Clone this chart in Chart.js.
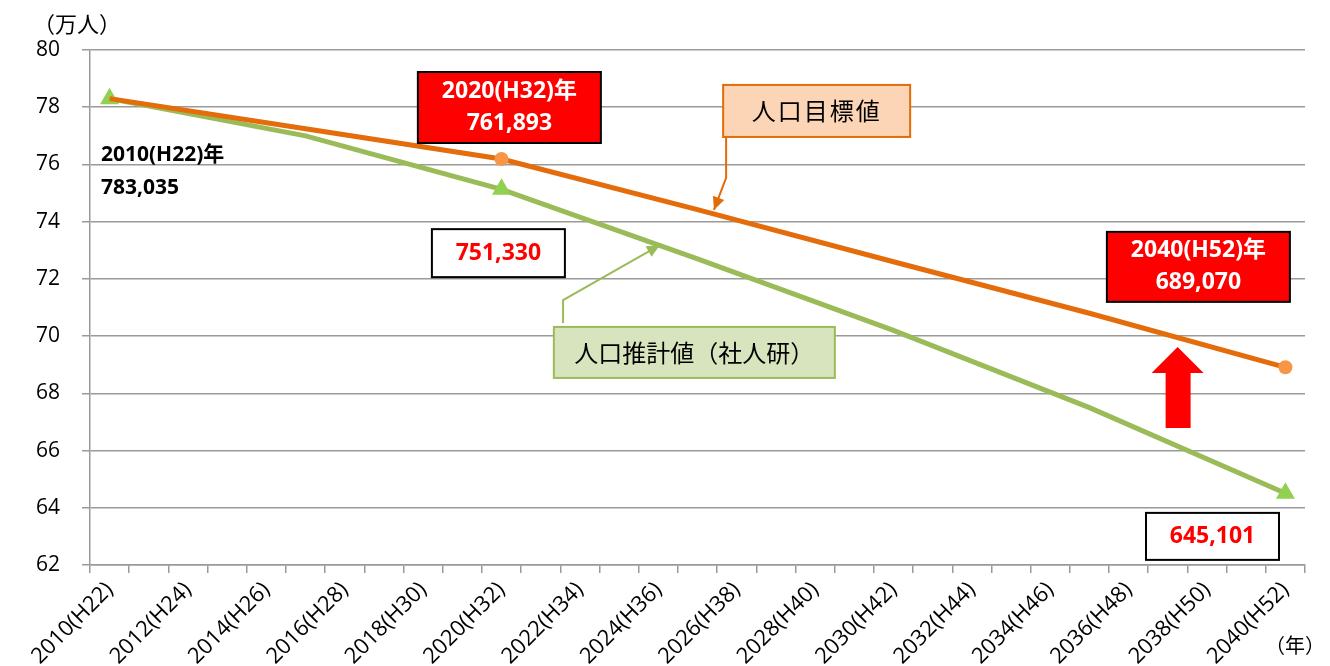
<!DOCTYPE html>
<html>
<head>
<meta charset="utf-8">
<script src="https://cdn.jsdelivr.net/npm/chart.js@4"></script>
<style>
  body { margin: 0; background: #fff; }
  #wrap { width: 1330px; height: 666px; position: relative; }
</style>
</head>
<body>
<div id="wrap"><canvas id="grafico"></canvas></div>
<script>
// categories: one per year, labels shown every 2 years
var yearLabels = [
    '2010(H22)', '2011(H23)', '2012(H24)', '2013(H25)', '2014(H26)', '2015(H27)',
    '2016(H28)', '2017(H29)', '2018(H30)', '2019(H31)', '2020(H32)', '2021(H33)',
    '2022(H34)', '2023(H35)', '2024(H36)', '2025(H37)', '2026(H38)', '2027(H39)',
    '2028(H40)', '2029(H41)', '2030(H42)', '2031(H43)', '2032(H44)', '2033(H45)',
    '2034(H46)', '2035(H47)', '2036(H48)', '2037(H49)', '2038(H50)', '2039(H51)',
    '2040(H52)'
];
var firstYear = 2010;

// values in 万人, every 5 years
var dataYears = [2010, 2015, 2020, 2025, 2030, 2035, 2040];
var targetValues = [78.30, 77.25, 76.19, 74.42, 72.60, 70.80, 68.91];   // 人口目標値
var estimateValues = [78.30, 77.00, 75.13, 72.70, 70.20, 67.50, 64.51]; // 人口推計値(社人研)

var targetMarked = [2020, 2040];
var estimateMarked = [2010, 2020, 2040];

var yTicks = [62, 64, 66, 68, 70, 72, 74, 76, 78, 80];

var LAT = '"Open Sans", "Noto Sans CJK JP", sans-serif';
var JP = '"Noto Sans CJK JP", sans-serif';

function serie(valores) {
    var pts = [];
    for (var i = 0; i < dataYears.length; i++) {
        pts.push({ x: yearLabels[dataYears[i] - firstYear], y: valores[i] });
    }
    return pts;
}

function marcado(lista, r) {
    return function (c) {
        return lista.indexOf(dataYears[c.dataIndex]) >= 0 ? r : 0;
    };
}

// annotation helpers
var anotacoes = {
    id: 'anotacoes',
    afterDraw: function (chart) {
        var ctx = chart.ctx;
        var xs = chart.scales.x, ys = chart.scales.y;
        var px = function (ano) { return xs.getPixelForValue(ano - firstYear); };
        var py = function (v) { return ys.getPixelForValue(v); };

        function caixa(ano, v, w, h, fundo, borda, linhas, cor, fonte, passo, espaco) {
            var cx = px(ano), cy = py(v);
            ctx.save();
            ctx.fillStyle = fundo;
            ctx.fillRect(cx - w / 2, cy - h / 2, w, h);
            ctx.lineWidth = 2;
            ctx.strokeStyle = borda;
            ctx.strokeRect(cx - w / 2, cy - h / 2, w, h);
            ctx.fillStyle = cor;
            ctx.font = fonte;
            ctx.textAlign = 'center';
            ctx.textBaseline = 'middle';
            if (espaco) ctx.letterSpacing = espaco;
            var y0 = cy - (linhas.length - 1) * passo / 2;
            linhas.forEach(function (t, i) { ctx.fillText(t, cx, y0 + i * passo); });
            ctx.restore();
        }

        function seta(pontos, cor) {
            ctx.save();
            ctx.strokeStyle = cor;
            ctx.fillStyle = cor;
            ctx.lineWidth = 2;
            ctx.beginPath();
            var p = pontos.map(function (q) { return [px(q[0]), py(q[1])]; });
            ctx.moveTo(p[0][0], p[0][1]);
            for (var i = 1; i < p.length; i++) ctx.lineTo(p[i][0], p[i][1]);
            ctx.stroke();
            var a = p[p.length - 2], b = p[p.length - 1];
            var ang = Math.atan2(b[1] - a[1], b[0] - a[0]);
            ctx.beginPath();
            ctx.moveTo(b[0], b[1]);
            ctx.lineTo(b[0] - 13 * Math.cos(ang) + 6 * Math.sin(ang), b[1] - 13 * Math.sin(ang) - 6 * Math.cos(ang));
            ctx.lineTo(b[0] - 13 * Math.cos(ang) - 6 * Math.sin(ang), b[1] - 13 * Math.sin(ang) + 6 * Math.cos(ang));
            ctx.closePath();
            ctx.fill();
            ctx.restore();
        }

        // 2010 label (no box)
        ctx.save();
        ctx.fillStyle = '#000';
        ctx.font = 'bold 21px ' + LAT;
        ctx.textAlign = 'left';
        ctx.textBaseline = 'middle';
        ctx.fillText('2010(H22)年', px(2009.78), py(76.33));
        ctx.fillText('783,035', px(2009.78), py(75.18));
        ctx.restore();

        // red boxes
        caixa(2020.2, 77.99, 183, 71, '#FF0000', '#000', ['2020(H32)年', '761,893'], '#fff', 'bold 23px ' + LAT, 32);
        caixa(2037.78, 72.42, 183, 70, '#FF0000', '#000', ['2040(H52)年', '689,070'], '#fff', 'bold 23px ' + LAT, 32);

        // white boxes
        caixa(2019.92, 72.9, 133, 48, '#fff', '#000', ['751,330'], '#FF0000', 'bold 23px ' + LAT, 0);
        caixa(2038.14, 63.0, 133, 47, '#fff', '#000', ['645,101'], '#FF0000', 'bold 23px ' + LAT, 0);

        // series labels with arrows
        seta([[2025.73, 76.96], [2025.73, 75.53], [2025.42, 74.41]], '#E36C09');
        caixa(2028.04, 77.87, 187, 52, '#FBD5B5', '#E36C09', ['人口目標値'], '#000', '24px ' + JP, 0, '2px');
        seta([[2021.57, 70.46], [2021.57, 71.26], [2024.04, 73.18]], '#9BBB59');
        caixa(2024.92, 69.43, 281, 51, '#D7E4BD', '#9BBB59', ['人口推計値（社人研）'], '#000', '24px ' + JP, 0);

        // big red up arrow
        var ax = px(2037.25), topo = py(69.62), base = py(66.79);
        ctx.save();
        ctx.fillStyle = '#FF0000';
        ctx.beginPath();
        ctx.moveTo(ax, topo);
        ctx.lineTo(ax + 26, topo + 26);
        ctx.lineTo(ax + 13, topo + 26);
        ctx.lineTo(ax + 13, base);
        ctx.lineTo(ax - 12, base);
        ctx.lineTo(ax - 12, topo + 26);
        ctx.lineTo(ax - 26, topo + 26);
        ctx.closePath();
        ctx.fill();
        ctx.restore();

        // axis titles
        ctx.save();
        ctx.fillStyle = '#000';
        ctx.font = '22px ' + JP;
        ctx.textAlign = 'center';
        ctx.textBaseline = 'middle';
        ctx.fillText('（万人）', 77, 24);
        ctx.font = '20px ' + JP;
        ctx.fillText('（年）', 1295, 645);
        ctx.restore();
    }
};

var graf = document.getElementById('grafico');
var chart = new Chart(graf, {
    type: 'line',
    data: {
        labels: yearLabels,
        datasets: [{
            label: '人口目標値',
            data: serie(targetValues),
            borderColor: '#E46C0A',
            borderWidth: 5,
            pointStyle: 'circle',
            pointRadius: marcado(targetMarked, 7),
            pointHoverRadius: marcado(targetMarked, 7),
            pointBackgroundColor: '#F79646',
            pointBorderWidth: 0,
            tension: 0
        }, {
            label: '人口推計値（社人研）',
            data: serie(estimateValues),
            borderColor: '#9BBB59',
            borderWidth: 5,
            pointStyle: 'triangle',
            pointRadius: marcado(estimateMarked, 11),
            pointHoverRadius: marcado(estimateMarked, 11),
            pointBackgroundColor: '#92D050',
            pointBorderWidth: 0,
            tension: 0
        }]
    },
    options: {
        responsive: true,
        maintainAspectRatio: false,
        animation: false,
        events: [],
        layout: { padding: { top: 50, right: 25, left: 0, bottom: 0 } },
        plugins: {
            legend: { display: false },
            tooltip: { enabled: false }
        },
        scales: {
            x: {
                type: 'category',
                offset: true,
                afterFit: function (s) { s.height = 101; },
                grid: {
                    display: true,
                    offset: true,
                    drawOnChartArea: false,
                    drawTicks: true,
                    tickLength: 8,
                    color: '#9a9a9a',
                    lineWidth: 1.5
                },
                border: { display: true, color: '#9a9a9a', width: 1.5 },
                ticks: {
                    autoSkip: false,
                    minRotation: 45,
                    maxRotation: 45,
                    padding: 4,
                    color: '#000',
                    font: { family: LAT, size: 22 },
                    callback: function (v, i) { return i % 2 === 0 ? yearLabels[i] : ''; }
                }
            },
            y: {
                min: 62,
                max: 80,
                afterFit: function (s) { s.width = 90; },
                afterBuildTicks: function (s) { s.ticks = yTicks.map(function (v) { return { value: v }; }); },
                grid: {
                    color: '#9a9a9a',
                    lineWidth: 1.5,
                    tickLength: 8
                },
                border: { display: true, color: '#9a9a9a', width: 1.5 },
                ticks: {
                    padding: 22,
                    color: '#000',
                    font: { family: LAT, size: 21 }
                }
            }
        }
    },
    plugins: [anotacoes]
});
</script>
</body>
</html>
